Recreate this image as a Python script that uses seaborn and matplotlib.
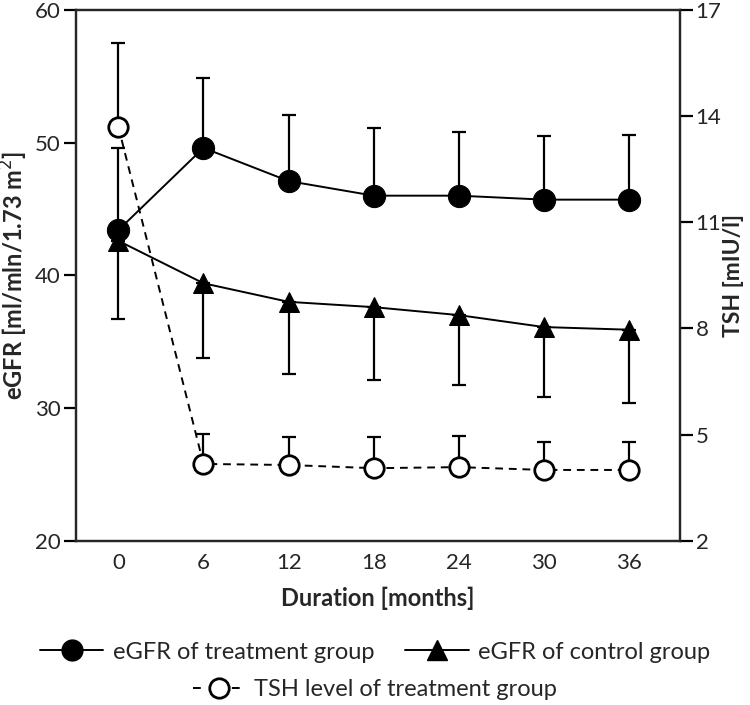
import matplotlib
matplotlib.use("Agg")
import matplotlib.pyplot as plt
from matplotlib.lines import Line2D
import numpy as np
import pandas as pd
import seaborn as sns

months = [0, 6, 12, 18, 24, 30, 36]

# eGFR [ml/min/1.73 m2], treatment group (upper SD shown)
egfr_treat = [43.4, 49.6, 47.1, 46.0, 46.0, 45.7, 45.7]
egfr_treat_hi = [49.6, 54.9, 52.1, 51.1, 50.8, 50.5, 50.6]

# eGFR, control group (lower SD shown)
egfr_ctrl = [42.6, 39.4, 38.0, 37.6, 37.0, 36.1, 35.9]
egfr_ctrl_lo = [36.7, 33.8, 32.6, 32.1, 31.7, 30.8, 30.4]

# TSH [mIU/l], treatment group (upper SD shown)
tsh = [13.7, 4.17, 4.14, 4.05, 4.08, 4.0, 4.0]
tsh_hi = [16.07, 5.01, 4.92, 4.92, 4.97, 4.78, 4.78]

sns.set_style("ticks")
plt.rcParams['font.family'] = ['Lato', 'DejaVu Sans']

df = pd.DataFrame({"month": months, "treat": egfr_treat, "ctrl": egfr_ctrl, "tsh": tsh})

fig = plt.figure(figsize=(7.5, 7.05), dpi=100)
ax = fig.add_axes([0.101, 0.233, 0.806, 0.753])
ax2 = ax.twinx()

lw = 1.4
ebw = 1.6

# error bars (one-sided)
t = np.array(egfr_treat)
ax.errorbar(months, t, yerr=[np.zeros(7), np.array(egfr_treat_hi) - t], fmt='none',
            ecolor='black', elinewidth=ebw, capsize=5, capthick=ebw, zorder=1)
c = np.array(egfr_ctrl)
ax.errorbar(months, c, yerr=[c - np.array(egfr_ctrl_lo), np.zeros(7)], fmt='none',
            ecolor='black', elinewidth=ebw, capsize=5, capthick=ebw, zorder=1)

sns.lineplot(data=df, x="month", y="ctrl", ax=ax, color='black', lw=lw, marker='^',
             markersize=15, markeredgecolor='black', markerfacecolor='black', zorder=3)
sns.lineplot(data=df, x="month", y="treat", ax=ax, color='black', lw=lw, marker='o',
             markersize=16, markeredgecolor='black', markerfacecolor='black', zorder=4)

s = np.array(tsh)
ax2.errorbar(months, s, yerr=[np.zeros(7), np.array(tsh_hi) - s], fmt='none',
             ecolor='black', elinewidth=ebw, capsize=5, capthick=ebw, zorder=1)
sns.lineplot(data=df, x="month", y="tsh", ax=ax2, color='black', lw=lw, linestyle='--',
             marker='o', markersize=14, markeredgecolor='black', markeredgewidth=2,
             markerfacecolor='white', zorder=3)
ax2.lines[-1].set_dashes((4, 3))

ax.set_xlim(-3, 39.6)
ax.set_ylim(20, 60)
ax2.set_ylim(2, 17)
ax.set_xticks(months)
ax.set_yticks([20, 30, 40, 50, 60])
ax2.set_yticks([2, 5, 8, 11, 14, 17])

for spine in ["left", "right", "top", "bottom"]:
    ax.spines[spine].set_visible(True)
    ax.spines[spine].set_linewidth(1.6)
    ax2.spines[spine].set_linewidth(1.6)

ax.tick_params(axis='y', length=9, width=1.6, labelsize=16, color='black', pad=2)
ax.tick_params(axis='x', length=0, labelsize=16, pad=9)
ax2.tick_params(axis='y', length=9, width=1.6, labelsize=16, color='black', pad=2)

ax.set_xlabel("Duration [months]", fontsize=17, fontweight='bold', labelpad=10)
ax.set_ylabel("eGFR [ml/mln/1.73 m$^2$]", fontsize=17, fontweight='bold', labelpad=3)
ax2.set_ylabel("TSH [mIU/l]", fontsize=16.5, fontweight='bold', labelpad=1)

h1 = Line2D([], [], color='black', lw=lw, marker='o', markersize=15, markerfacecolor='black')
h2 = Line2D([], [], color='black', lw=lw, marker='^', markersize=15, markerfacecolor='black')
h3 = Line2D([], [], color='black', lw=lw, linestyle='--', dashes=(4, 6), marker='o',
            markersize=14, markeredgewidth=2, markerfacecolor='white')

fig.legend([h1, h2], ["eGFR of treatment group", "eGFR of control group"],
           loc='center', bbox_to_anchor=(0.5, 0.075), ncol=2, frameon=False,
           fontsize=17, handlelength=2.7, handletextpad=0.4, columnspacing=1.3)
fig.legend([h3], ["TSH level of treatment group"], loc='center',
           bbox_to_anchor=(0.5, 0.022), frameon=False, fontsize=17,
           handlelength=2.2, handletextpad=0.4)

fig.savefig("out.png", dpi=100)
